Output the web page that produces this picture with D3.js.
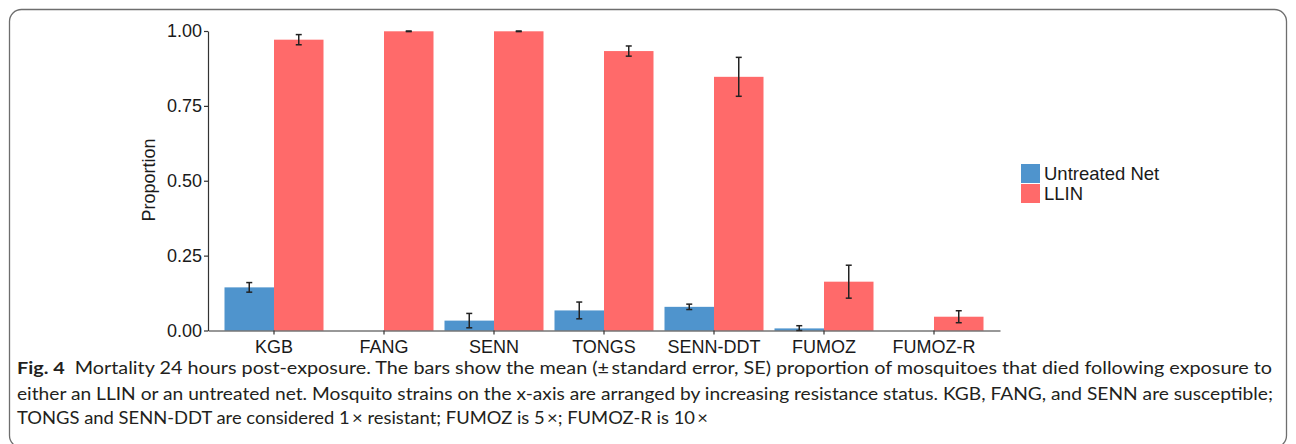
<!DOCTYPE html>
<html>
<head>
<meta charset="utf-8">
<script src="https://cdn.jsdelivr.net/npm/d3@7"></script>
<style>
  html, body { margin: 0; padding: 0; background: #fff; }
  svg { display: block; }
</style>
</head>
<body>
<svg id="chart" width="1296" height="444"></svg>
<script>
const categories = ["KGB", "FANG", "SENN", "TONGS", "SENN-DDT", "FUMOZ", "FUMOZ-R"];
const seriesNames = ["Untreated Net", "LLIN"];
const untreatedMean = [0.144, 0, 0.033, 0.067, 0.079, 0.007, 0];
const untreatedSE   = [0.016, 0, 0.024, 0.028, 0.009, 0.009, 0];
const llinMean = [0.971, 0.999, 0.999, 0.933, 0.847, 0.163, 0.046];
const llinSE   = [0.017, 0.001, 0.001, 0.017, 0.065, 0.055, 0.020];
const yTicks = [0, 0.25, 0.5, 0.75, 1.0];
const seriesColors = ["#4F94CD", "#FF6A6A"];
const captionLines = [
  ["Fig. 4", "  Mortality 24 hours post-exposure. The bars show the mean (\u00B1\u2009standard error, SE) proportion of mosquitoes that died following exposure to"],
  ["", "either an LLIN or an untreated net. Mosquito strains on the x-axis are arranged by increasing resistance status. KGB, FANG, and SENN are susceptible;"],
  ["", "TONGS and SENN-DDT are considered 1\u2009\u00D7 resistant; FUMOZ is 5\u2009\u00D7; FUMOZ-R is 10\u2009\u00D7"]
];

const rows = [];
categories.forEach((c, i) => {
  rows.push({cat: c, s: seriesNames[0], mean: untreatedMean[i], se: untreatedSE[i]});
  rows.push({cat: c, s: seriesNames[1], mean: llinMean[i], se: llinSE[i]});
});

const svg = d3.select("#chart");

// frame
svg.append("rect")
  .attr("x", 9.5).attr("y", 9.5).attr("width", 1277).attr("height", 438)
  .attr("rx", 12).attr("ry", 12)
  .attr("fill", "none").attr("stroke", "#6e6e6e").attr("stroke-width", 1.3);

const x = d3.scaleBand().domain(categories).range([208, 1000]).paddingInner(0).paddingOuter(0.1);
const xs = d3.scaleBand().domain(seriesNames).range([x.bandwidth() * 0.05, x.bandwidth() * 0.95]);
const y = d3.scaleLinear().domain([0, 1]).range([330.5, 31]);
const color = d3.scaleOrdinal().domain(seriesNames).range(seriesColors);

const font = "'Liberation Sans', Arial, sans-serif";

// bars
const visible = rows.filter(d => d.mean > 0 || d.se > 0);
svg.append("g").selectAll("rect").data(visible).join("rect")
  .attr("x", d => x(d.cat) + xs(d.s))
  .attr("y", d => y(d.mean))
  .attr("width", xs.bandwidth())
  .attr("height", d => y(0) - y(d.mean))
  .attr("fill", d => color(d.s));

// error bars
const eg = svg.append("g").attr("stroke", "#222").attr("stroke-width", 1.5).attr("fill", "none");
visible.forEach(d => {
  const cx = x(d.cat) + xs(d.s) + xs.bandwidth() / 2;
  const lo = y(Math.max(0, d.mean - d.se)), hi = y(Math.min(1, d.mean + d.se));
  const hw = 3;
  eg.append("line").attr("x1", cx).attr("x2", cx).attr("y1", lo).attr("y2", hi);
  eg.append("line").attr("x1", cx - hw).attr("x2", cx + hw).attr("y1", lo).attr("y2", lo);
  eg.append("line").attr("x1", cx - hw).attr("x2", cx + hw).attr("y1", hi).attr("y2", hi);
});

// axes
const yAxis = svg.append("g").attr("transform", "translate(208,0)")
  .call(d3.axisLeft(y).tickValues(yTicks).tickFormat(d3.format(".2f")).tickSize(4).tickSizeOuter(0).tickPadding(2));
const xAxis = svg.append("g").attr("transform", "translate(0,330.5)")
  .call(d3.axisBottom(x).tickSize(4).tickSizeOuter(0).tickPadding(6));
[yAxis, xAxis].forEach(a => {
  a.select(".domain").attr("stroke", "#333").attr("stroke-width", 1.2);
  a.selectAll(".tick line").attr("stroke", "#333").attr("stroke-width", 1.2);
  a.selectAll(".tick text").attr("fill", "#1a1a1a").style("font-family", font).style("font-size", "18px");
});

// y label
svg.append("text")
  .attr("transform", "translate(149,180) rotate(-90)")
  .attr("text-anchor", "middle").attr("dominant-baseline", "central")
  .style("font-family", font).style("font-size", "18px").attr("fill", "#1a1a1a")
  .text("Proportion");

// legend
const lg = svg.append("g");
seriesNames.forEach((s, i) => {
  lg.append("rect").attr("x", 1021).attr("y", 164 + i * 20).attr("width", 19).attr("height", 19).attr("fill", color(s));
  lg.append("text").attr("x", 1044).attr("y", 180 + i * 20)
    .style("font-family", font).style("font-size", "18.5px").attr("fill", "#1a1a1a").text(s);
});

// caption
const capFont = "Lato, 'Open Sans', sans-serif";
const capBase = [374, 400, 424];
const capLen = [1255, 1256, 691];
captionLines.forEach((ln, i) => {
  const t = svg.append("text").attr("x", 17).attr("y", capBase[i])
    .style("font-family", capFont).style("font-size", "17.5px").attr("fill", "#231f20")
    .attr("textLength", capLen[i]).attr("lengthAdjust", "spacingAndGlyphs")
    .attr("xml:space", "preserve").style("white-space", "pre");
  if (ln[0]) t.append("tspan").style("font-weight", "bold").text(ln[0]);
  t.append("tspan").text(ln[1]);
});
</script>
</body>
</html>
